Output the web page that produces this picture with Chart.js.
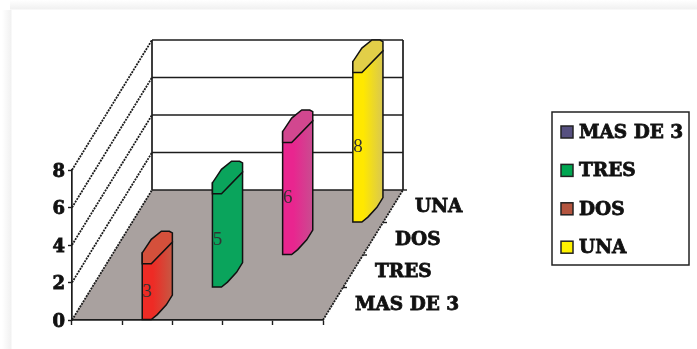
<!DOCTYPE html>
<html>
<head>
<meta charset="utf-8">
<style>
  html, body { margin: 0; background: #fff; }
  #wrap {
    width: 697px; height: 349px; overflow: hidden;
    /* faint scan edge along the top and left */
    background:
      linear-gradient(to bottom, #fff 0, #f1f1f1 9px, transparent 10px) 10px 0 no-repeat,
      linear-gradient(to right, #fff 2px, #f1f1f1 11px, transparent 12px) 0 10px no-repeat,
      #fff;
  }
  canvas { display: block; filter: blur(0.7px); }
</style>
<script src="https://cdn.jsdelivr.net/npm/chart.js@4"></script>
</head>
<body>
<div id="wrap"><canvas id="chart" width="697" height="349"></canvas></div>
<script>
// data
const categories = ['', '', '', '', ''];
const yTicks = [0, 2, 4, 6, 8];
const masDe3 = [null, 3, null, null, null];
const tres = [null, null, 5, null, null];
const dos = [null, null, null, 6, null];
const una = [null, null, null, null, 8];
const seriesNames = ['MAS DE 3', 'TRES', 'DOS', 'UNA'];

// bars don't use the legend colours in the original
const barLeft = ['#ee2b25', '#0aa45c', '#e9258f', '#ffe800'];
const barRight = ['#c65843', '#0aa45c', '#c94c90', '#d9c850'];
const capColors = ['#d4503b', '#0aa45c', '#d2478f', '#e2cf48'];
const legendColors = ['#565080', '#00a651', '#b4553f', '#fff200'];

// oblique depth of the floor, in px
const depthX = 80;
const depthY = -130;
const rows = seriesNames.length;
const serif = '"Liberation Serif", serif';
const wide = '"DejaVu Serif", serif';

function line(ctx, x1, y1, x2, y2) {
  ctx.beginPath();
  ctx.moveTo(x1, y1);
  ctx.lineTo(x2, y2);
  ctx.stroke();
}

function poly(ctx, pts) {
  ctx.beginPath();
  pts.forEach((p, i) => i ? ctx.lineTo(p[0], p[1]) : ctx.moveTo(p[0], p[1]));
  ctx.closePath();
  ctx.fill();
  ctx.stroke();
}

function heavyText(ctx, text, x, y) {
  ctx.fillStyle = '#111';
  ctx.strokeStyle = '#111';
  ctx.lineWidth = 0.8;
  ctx.fillText(text, x, y);
  ctx.strokeText(text, x, y);
}

// floor and walls go under the axes
const walls = {
  id: 'walls',
  beforeDraw(chart) {
    const ctx = chart.ctx;
    const a = chart.chartArea;
    const y = chart.scales.y;
    ctx.save();
    ctx.fillStyle = '#a9a19f';
    ctx.beginPath();
    ctx.moveTo(a.left, a.bottom);
    ctx.lineTo(a.left + depthX, a.bottom + depthY);
    ctx.lineTo(a.right + depthX, a.bottom + depthY);
    ctx.lineTo(a.right, a.bottom);
    ctx.closePath();
    ctx.fill();

    ctx.strokeStyle = '#1c1c1c';
    ctx.lineWidth = 1.7;
    yTicks.forEach(t => {
      const py = y.getPixelForValue(t);
      line(ctx, a.left + depthX, py + depthY, a.right + depthX, py + depthY);
    });
    line(ctx, a.left + depthX, a.top + depthY, a.left + depthX, a.bottom + depthY);
    line(ctx, a.right + depthX, a.top + depthY, a.right + depthX, a.bottom + depthY);

    // left wall and right floor edge look dotted from the jaggies
    ctx.lineWidth = 1.8;
    ctx.setLineDash([2, 1]);
    yTicks.forEach(t => {
      const py = y.getPixelForValue(t);
      line(ctx, a.left, py, a.left + depthX, py + depthY);
    });
    line(ctx, a.right, a.bottom, a.right + depthX, a.bottom + depthY);
    ctx.setLineDash([]);

    // depth axis ticks
    ctx.lineWidth = 1.4;
    for (let r = 1; r <= rows; r++) {
      const tx = a.right + depthX * r / rows;
      const ty = a.bottom + depthY * r / rows;
      line(ctx, tx, ty, tx + 4, ty);
    }
    ctx.restore();
  },
  afterDatasetsDraw(chart) {
    const ctx = chart.ctx;
    const a = chart.chartArea;
    ctx.save();
    // back to front
    for (let r = rows - 1; r >= 0; r--) {
      const meta = chart.getDatasetMeta(r);
      const value = chart.data.datasets[r].data;
      meta.data.forEach((bar, i) => {
        if (value[i] == null) return;
        const d = (r + 0.5) / rows;
        const cx = bar.x + depthX * d;
        const top = bar.y + depthY * d;
        const base = bar.base + depthY * d;
        const w = bar.width / 2;
        const h = -depthY / rows / 2;

        ctx.strokeStyle = '#111';
        ctx.lineWidth = 1.5;
        const g = ctx.createLinearGradient(cx - w, 0, cx + w, 0);
        g.addColorStop(0, barLeft[r]);
        g.addColorStop(0.35, barLeft[r]);
        g.addColorStop(1, barRight[r]);
        ctx.fillStyle = g;
        poly(ctx, [
          [cx - w, top + h * 0.33],
          [cx - w, base + h],
          [cx - w * 0.4, base + h],
          [cx, base + h * 0.7],
          [cx + w * 0.6, base + h * 0.1],
          [cx + w, base - h * 0.5],
          [cx + w, top - h * 0.33]
        ]);
        ctx.fillStyle = capColors[r];
        poly(ctx, [
          [cx - w, top + h],
          [cx - w * 0.4, top + h],
          [cx + w, top - h * 0.33],
          [cx + w, top - h * 0.9],
          [cx + w * 0.8, top - h],
          [cx + w * 0.27, top - h],
          [cx - w * 0.4, top - h * 0.5],
          [cx - w, top + h * 0.33]
        ]);

        // value sits on the left side of the bar
        ctx.fillStyle = '#333';
        ctx.font = '19px ' + serif;
        ctx.textAlign = 'center';
        ctx.textBaseline = 'middle';
        ctx.fillText(value[i], cx - 10, (top + base) / 2 + h);
      });
    }

    // depth axis labels
    ctx.font = 'bold 18.5px ' + wide;
    ctx.textAlign = 'left';
    ctx.textBaseline = 'middle';
    seriesNames.forEach((name, r) => {
      const d = (r + 0.5) / rows;
      heavyText(ctx, name, a.right + depthX * d + 22, a.bottom + depthY * d + 1);
    });

    // legend box
    const box = { x: 552, y: 112, w: 137, h: 153 };
    ctx.strokeStyle = '#222';
    ctx.lineWidth = 1.5;
    ctx.strokeRect(box.x, box.y, box.w, box.h);
    seriesNames.forEach((name, r) => {
      const ly = box.y + 20 + r * 38.4;
      ctx.fillStyle = legendColors[r];
      ctx.strokeStyle = '#222';
      ctx.lineWidth = 1.5;
      ctx.fillRect(box.x + 9, ly - 6, 12, 12);
      ctx.strokeRect(box.x + 9, ly - 6, 12, 12);
      heavyText(ctx, name, box.x + 27, ly + 1);
    });
    ctx.restore();
  }
};

function dataset(label, data) {
  return { label, data, backgroundColor: 'transparent', borderWidth: 0 };
}

new Chart(document.getElementById('chart'), {
  type: 'bar',
  data: {
    labels: categories,
    datasets: [
      dataset(seriesNames[0], masDe3),
      dataset(seriesNames[1], tres),
      dataset(seriesNames[2], dos),
      dataset(seriesNames[3], una)
    ]
  },
  options: {
    responsive: false,
    animation: false,
    layout: { padding: { top: 170, right: 374 } },
    datasets: { bar: { grouped: false, categoryPercentage: 1, barPercentage: 0.6 } },
    plugins: { legend: { display: false }, tooltip: { enabled: false } },
    scales: {
      x: {
        afterFit: s => { s.height = 29; },
        border: { color: '#1c1c1c', width: 1.7 },
        grid: { drawOnChartArea: false, offset: true, tickLength: 5, tickColor: '#1c1c1c', tickWidth: 1.4 },
        ticks: { display: false }
      },
      y: {
        min: 0,
        max: 8,
        afterFit: s => { s.width = 72; },
        afterBuildTicks: s => { s.ticks = yTicks.map(v => ({ value: v })); },
        border: { color: '#1c1c1c', width: 1.7 },
        grid: { drawOnChartArea: false, tickLength: 4, tickColor: '#1c1c1c', tickWidth: 1.4 },
        ticks: {
          color: '#111',
          padding: 3,
          labelOffset: 2,
          textStrokeColor: '#111',
          textStrokeWidth: 0.8,
          font: { family: wide, size: 18, weight: 'bold' }
        }
      }
    }
  },
  plugins: [walls]
});
</script>
</body>
</html>
